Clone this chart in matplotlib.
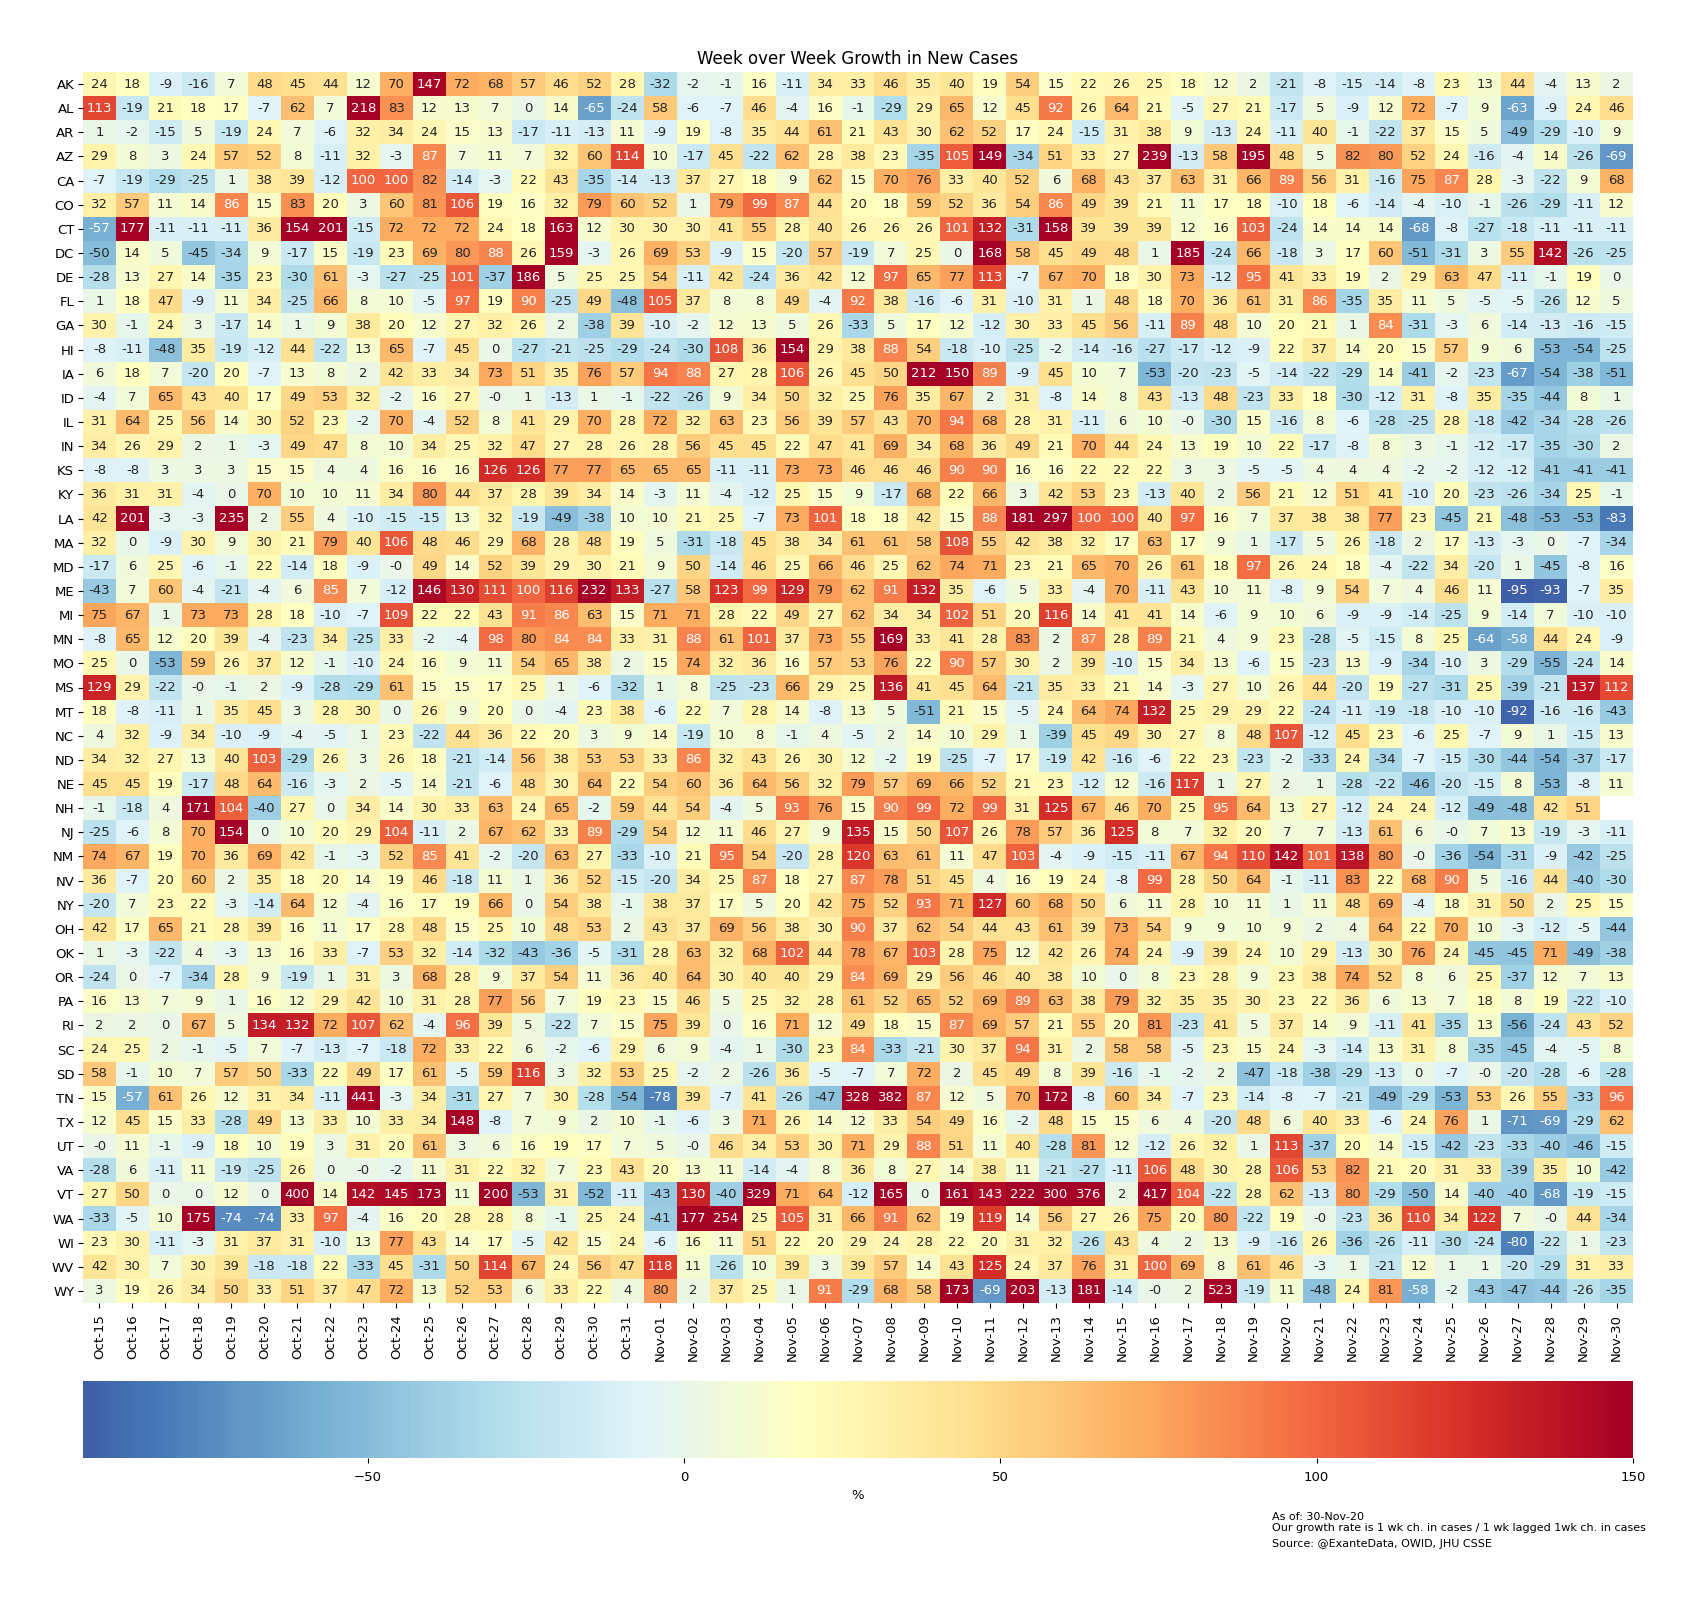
import matplotlib
matplotlib.use('Agg')
import matplotlib.pyplot as plt
from matplotlib.colors import ListedColormap
import numpy as np

nan = np.nan

# one row per state, Oct-15 to Nov-30
AK = [24, 18, -9, -16, 7, 48, 45, 44, 12, 70, 147, 72, 68, 57, 46, 52, 28, -32, -2, -1, 16, -11, 34, 33, 46, 35, 40, 19, 54, 15, 22, 26, 25, 18, 12, 2, -21, -8, -15, -14, -8, 23, 13, 44, -4, 13, 2]
AL = [113, -19, 21, 18, 17, -7, 62, 7, 218, 83, 12, 13, 7, 0, 14, -65, -24, 58, -6, -7, 46, -4, 16, -1, -29, 29, 65, 12, 45, 92, 26, 64, 21, -5, 27, 21, -17, 5, -9, 12, 72, -7, 9, -63, -9, 24, 46]
AR = [1, -2, -15, 5, -19, 24, 7, -6, 32, 34, 24, 15, 13, -17, -11, -13, 11, -9, 19, -8, 35, 44, 61, 21, 43, 30, 62, 52, 17, 24, -15, 31, 38, 9, -13, 24, -11, 40, -1, -22, 37, 15, 5, -49, -29, -10, 9]
AZ = [29, 8, 3, 24, 57, 52, 8, -11, 32, -3, 87, 7, 11, 7, 32, 60, 114, 10, -17, 45, -22, 62, 28, 38, 23, -35, 105, 149, -34, 51, 33, 27, 239, -13, 58, 195, 48, 5, 82, 80, 52, 24, -16, -4, 14, -26, -69]
CA = [-7, -19, -29, -25, 1, 38, 39, -12, 100, 100, 82, -14, -3, 22, 43, -35, -14, -13, 37, 27, 18, 9, 62, 15, 70, 76, 33, 40, 52, 6, 68, 43, 37, 63, 31, 66, 89, 56, 31, -16, 75, 87, 28, -3, -22, 9, 68]
CO = [32, 57, 11, 14, 86, 15, 83, 20, 3, 60, 81, 106, 19, 16, 32, 79, 60, 52, 1, 79, 99, 87, 44, 20, 18, 59, 52, 36, 54, 86, 49, 39, 21, 11, 17, 18, -10, 18, -6, -14, -4, -10, -1, -26, -29, -11, 12]
CT = [-57, 177, -11, -11, -11, 36, 154, 201, -15, 72, 72, 72, 24, 18, 163, 12, 30, 30, 30, 41, 55, 28, 40, 26, 26, 26, 101, 132, -31, 158, 39, 39, 39, 12, 16, 103, -24, 14, 14, 14, -68, -8, -27, -18, -11, -11, -11]
DC = [-50, 14, 5, -45, -34, 9, -17, 15, -19, 23, 69, 80, 88, 26, 159, -3, 26, 69, 53, -9, 15, -20, 57, -19, 7, 25, 0, 168, 58, 45, 49, 48, 1, 185, -24, 66, -18, 3, 17, 60, -51, -31, 3, 55, 142, -26, -25]
DE = [-28, 13, 27, 14, -35, 23, -30, 61, -3, -27, -25, 101, -37, 186, 5, 25, 25, 54, -11, 42, -24, 36, 42, 12, 97, 65, 77, 113, -7, 67, 70, 18, 30, 73, -12, 95, 41, 33, 19, 2, 29, 63, 47, -11, -1, 19, 0]
FL = [1, 18, 47, -9, 11, 34, -25, 66, 8, 10, -5, 97, 19, 90, -25, 49, -48, 105, 37, 8, 8, 49, -4, 92, 38, -16, -6, 31, -10, 31, 1, 48, 18, 70, 36, 61, 31, 86, -35, 35, 11, 5, -5, -5, -26, 12, 5]
GA = [30, -1, 24, 3, -17, 14, 1, 9, 38, 20, 12, 27, 32, 26, 2, -38, 39, -10, -2, 12, 13, 5, 26, -33, 5, 17, 12, -12, 30, 33, 45, 56, -11, 89, 48, 10, 20, 21, 1, 84, -31, -3, 6, -14, -13, -16, -15]
HI = [-8, -11, -48, 35, -19, -12, 44, -22, 13, 65, -7, 45, 0, -27, -21, -25, -29, -24, -30, 108, 36, 154, 29, 38, 88, 54, -18, -10, -25, -2, -14, -16, -27, -17, -12, -9, 22, 37, 14, 20, 15, 57, 9, 6, -53, -54, -25]
IA = [6, 18, 7, -20, 20, -7, 13, 8, 2, 42, 33, 34, 73, 51, 35, 76, 57, 94, 88, 27, 28, 106, 26, 45, 50, 212, 150, 89, -9, 45, 10, 7, -53, -20, -23, -5, -14, -22, -29, 14, -41, -2, -23, -67, -54, -38, -51]
ID = [-4, 7, 65, 43, 40, 17, 49, 53, 32, -2, 16, 27, -0.0, 1, -13, 1, -1, -22, -26, 9, 34, 50, 32, 25, 76, 35, 67, 2, 31, -8, 14, 8, 43, -13, 48, -23, 33, 18, -30, -12, 31, -8, 35, -35, -44, 8, 1]
IL = [31, 64, 25, 56, 14, 30, 52, 23, -2, 70, -4, 52, 8, 41, 29, 70, 28, 72, 32, 63, 23, 56, 39, 57, 43, 70, 94, 68, 28, 31, -11, 6, 10, -0.0, -30, 15, -16, 8, -6, -28, -25, 28, -18, -42, -34, -28, -26]
IN = [34, 26, 29, 2, 1, -3, 49, 47, 8, 10, 34, 25, 32, 47, 27, 28, 26, 28, 56, 45, 45, 22, 47, 41, 69, 34, 68, 36, 49, 21, 70, 44, 24, 13, 19, 10, 22, -17, -8, 8, 3, -1, -12, -17, -35, -30, 2]
KS = [-8, -8, 3, 3, 3, 15, 15, 4, 4, 16, 16, 16, 126, 126, 77, 77, 65, 65, 65, -11, -11, 73, 73, 46, 46, 46, 90, 90, 16, 16, 22, 22, 22, 3, 3, -5, -5, 4, 4, 4, -2, -2, -12, -12, -41, -41, -41]
KY = [36, 31, 31, -4, 0, 70, 10, 10, 11, 34, 80, 44, 37, 28, 39, 34, 14, -3, 11, -4, -12, 25, 15, 9, -17, 68, 22, 66, 3, 42, 53, 23, -13, 40, 2, 56, 21, 12, 51, 41, -10, 20, -23, -26, -34, 25, -1]
LA = [42, 201, -3, -3, 235, 2, 55, 4, -10, -15, -15, 13, 32, -19, -49, -38, 10, 10, 21, 25, -7, 73, 101, 18, 18, 42, 15, 88, 181, 297, 100, 100, 40, 97, 16, 7, 37, 38, 38, 77, 23, -45, 21, -48, -53, -53, -83]
MA = [32, 0, -9, 30, 9, 30, 21, 79, 40, 106, 48, 46, 29, 68, 28, 48, 19, 5, -31, -18, 45, 38, 34, 61, 61, 58, 108, 55, 42, 38, 32, 17, 63, 17, 9, 1, -17, 5, 26, -18, 2, 17, -13, -3, 0, -7, -34]
MD = [-17, 6, 25, -6, -1, 22, -14, 18, -9, -0.0, 49, 14, 52, 39, 29, 30, 21, 9, 50, -14, 46, 25, 66, 46, 25, 62, 74, 71, 23, 21, 65, 70, 26, 61, 18, 97, 26, 24, 18, -4, -22, 34, -20, 1, -45, -8, 16]
ME = [-43, 7, 60, -4, -21, -4, 6, 85, 7, -12, 146, 130, 111, 100, 116, 232, 133, -27, 58, 123, 99, 129, 79, 62, 91, 132, 35, -6, 5, 33, -4, 70, -11, 43, 10, 11, -8, 9, 54, 7, 4, 46, 11, -95, -93, -7, 35]
MI = [75, 67, 1, 73, 73, 28, 18, -10, -7, 109, 22, 22, 43, 91, 86, 63, 15, 71, 71, 28, 22, 49, 27, 62, 34, 34, 102, 51, 20, 116, 14, 41, 41, 14, -6, 9, 10, 6, -9, -9, -14, -25, 9, -14, 7, -10, -10]
MN = [-8, 65, 12, 20, 39, -4, -23, 34, -25, 33, -2, -4, 98, 80, 84, 84, 33, 31, 88, 61, 101, 37, 73, 55, 169, 33, 41, 28, 83, 2, 87, 28, 89, 21, 4, 9, 23, -28, -5, -15, 8, 25, -64, -58, 44, 24, -9]
MO = [25, 0, -53, 59, 26, 37, 12, -1, -10, 24, 16, 9, 11, 54, 65, 38, 2, 15, 74, 32, 36, 16, 57, 53, 76, 22, 90, 57, 30, 2, 39, -10, 15, 34, 13, -6, 15, -23, 13, -9, -34, -10, 3, -29, -55, -24, 14]
MS = [129, 29, -22, -0.0, -1, 2, -9, -28, -29, 61, 15, 15, 17, 25, 1, -6, -32, 1, 8, -25, -23, 66, 29, 25, 136, 41, 45, 64, -21, 35, 33, 21, 14, -3, 27, 10, 26, 44, -20, 19, -27, -31, 25, -39, -21, 137, 112]
MT = [18, -8, -11, 1, 35, 45, 3, 28, 30, 0, 26, 9, 20, 0, -4, 23, 38, -6, 22, 7, 28, 14, -8, 13, 5, -51, 21, 15, -5, 24, 64, 74, 132, 25, 29, 29, 22, -24, -11, -19, -18, -10, -10, -92, -16, -16, -43]
NC = [4, 32, -9, 34, -10, -9, -4, -5, 1, 23, -22, 44, 36, 22, 20, 3, 9, 14, -19, 10, 8, -1, 4, -5, 2, 14, 10, 29, 1, -39, 45, 49, 30, 27, 8, 48, 107, -12, 45, 23, -6, 25, -7, 9, 1, -15, 13]
ND = [34, 32, 27, 13, 40, 103, -29, 26, 3, 26, 18, -21, -14, 56, 38, 53, 53, 33, 86, 32, 43, 26, 30, 12, -2, 19, -25, -7, 17, -19, 42, -16, -6, 22, 23, -23, -2, -33, 24, -34, -7, -15, -30, -44, -54, -37, -17]
NE = [45, 45, 19, -17, 48, 64, -16, -3, 2, -5, 14, -21, -6, 48, 30, 64, 22, 54, 60, 36, 64, 56, 32, 79, 57, 69, 66, 52, 21, 23, -12, 12, -16, 117, 1, 27, 2, 1, -28, -22, -46, -20, -15, 8, -53, -8, 11]
NH = [-1, -18, 4, 171, 104, -40, 27, 0, 34, 14, 30, 33, 63, 24, 65, -2, 59, 44, 54, -4, 5, 93, 76, 15, 90, 99, 72, 99, 31, 125, 67, 46, 70, 25, 95, 64, 13, 27, -12, 24, 24, -12, -49, -48, 42, 51, nan]
NJ = [-25, -6, 8, 70, 154, 0, 10, 20, 29, 104, -11, 2, 67, 62, 33, 89, -29, 54, 12, 11, 46, 27, 9, 135, 15, 50, 107, 26, 78, 57, 36, 125, 8, 7, 32, 20, 7, 7, -13, 61, 6, -0.0, 7, 13, -19, -3, -11]
NM = [74, 67, 19, 70, 36, 69, 42, -1, -3, 52, 85, 41, -2, -20, 63, 27, -33, -10, 21, 95, 54, -20, 28, 120, 63, 61, 11, 47, 103, -4, -9, -15, -11, 67, 94, 110, 142, 101, 138, 80, -0.0, -36, -54, -31, -9, -42, -25]
NV = [36, -7, 20, 60, 2, 35, 18, 20, 14, 19, 46, -18, 11, 1, 36, 52, -15, -20, 34, 25, 87, 18, 27, 87, 78, 51, 45, 4, 16, 19, 24, -8, 99, 28, 50, 64, -1, -11, 83, 22, 68, 90, 5, -16, 44, -40, -30]
NY = [-20, 7, 23, 22, -3, -14, 64, 12, -4, 16, 17, 19, 66, 0, 54, 38, -1, 38, 37, 17, 5, 20, 42, 75, 52, 93, 71, 127, 60, 68, 50, 6, 11, 28, 10, 11, 1, 11, 48, 69, -4, 18, 31, 50, 2, 25, 15]
OH = [42, 17, 65, 21, 28, 39, 16, 11, 17, 28, 48, 15, 25, 10, 48, 53, 2, 43, 37, 69, 56, 38, 30, 90, 37, 62, 54, 44, 43, 61, 39, 73, 54, 9, 9, 10, 9, 2, 4, 64, 22, 70, 10, -3, -12, -5, -44]
OK = [1, -3, -22, 4, -3, 13, 16, 33, -7, 53, 32, -14, -32, -43, -36, -5, -31, 28, 63, 32, 68, 102, 44, 78, 67, 103, 28, 75, 12, 42, 26, 74, 24, -9, 39, 24, 10, 29, -13, 30, 76, 24, -45, -45, 71, -49, -38]
OR = [-24, 0, -7, -34, 28, 9, -19, 1, 31, 3, 68, 28, 9, 37, 54, 11, 36, 40, 64, 30, 40, 40, 29, 84, 69, 29, 56, 46, 40, 38, 10, 0, 8, 23, 28, 9, 23, 38, 74, 52, 8, 6, 25, -37, 12, 7, 13]
PA = [16, 13, 7, 9, 1, 16, 12, 29, 42, 10, 31, 28, 77, 56, 7, 19, 23, 15, 46, 5, 25, 32, 28, 61, 52, 65, 52, 69, 89, 63, 38, 79, 32, 35, 35, 30, 23, 22, 36, 6, 13, 7, 18, 8, 19, -22, -10]
RI = [2, 2, 0, 67, 5, 134, 132, 72, 107, 62, -4, 96, 39, 5, -22, 7, 15, 75, 39, 0, 16, 71, 12, 49, 18, 15, 87, 69, 57, 21, 55, 20, 81, -23, 41, 5, 37, 14, 9, -11, 41, -35, 13, -56, -24, 43, 52]
SC = [24, 25, 2, -1, -5, 7, -7, -13, -7, -18, 72, 33, 22, 6, -2, -6, 29, 6, 9, -4, 1, -30, 23, 84, -33, -21, 30, 37, 94, 31, 2, 58, 58, -5, 23, 15, 24, -3, -14, 13, 31, 8, -35, -45, -4, -5, 8]
SD = [58, -1, 10, 7, 57, 50, -33, 22, 49, 17, 61, -5, 59, 116, 3, 32, 53, 25, -2, 2, -26, 36, -5, -7, 7, 72, 2, 45, 49, 8, 39, -16, -1, -2, 2, -47, -18, -38, -29, -13, 0, -7, -0.0, -20, -28, -6, -28]
TN = [15, -57, 61, 26, 12, 31, 34, -11, 441, -3, 34, -31, 27, 7, 30, -28, -54, -78, 39, -7, 41, -26, -47, 328, 382, 87, 12, 5, 70, 172, -8, 60, 34, -7, 23, -14, -8, -7, -21, -49, -29, -53, 53, 26, 55, -33, 96]
TX = [12, 45, 15, 33, -28, 49, 13, 33, 10, 33, 34, 148, -8, 7, 9, 2, 10, -1, -6, 3, 71, 26, 14, 12, 33, 54, 49, 16, -2, 48, 15, 15, 6, 4, -20, 48, 6, 40, 33, -6, 24, 76, 1, -71, -69, -29, 62]
UT = [-0.0, 11, -1, -9, 18, 10, 19, 3, 31, 20, 61, 3, 6, 16, 19, 17, 7, 5, -0.0, 46, 34, 53, 30, 71, 29, 88, 51, 11, 40, -28, 81, 12, -12, 26, 32, 1, 113, -37, 20, 14, -15, -42, -23, -33, -40, -46, -15]
VA = [-28, 6, -11, 11, -19, -25, 26, 0, -0.0, -2, 11, 31, 22, 32, 7, 23, 43, 20, 13, 11, -14, -4, 8, 36, 8, 27, 14, 38, 11, -21, -27, -11, 106, 48, 30, 28, 106, 53, 82, 21, 20, 31, 33, -39, 35, 10, -42]
VT = [27, 50, 0, 0, 12, 0, 400, 14, 142, 145, 173, 11, 200, -53, 31, -52, -11, -43, 130, -40, 329, 71, 64, -12, 165, 0, 161, 143, 222, 300, 376, 2, 417, 104, -22, 28, 62, -13, 80, -29, -50, 14, -40, -40, -68, -19, -15]
WA = [-33, -5, 10, 175, -74, -74, 33, 97, -4, 16, 20, 28, 28, 8, -1, 25, 24, -41, 177, 254, 25, 105, 31, 66, 91, 62, 19, 119, 14, 56, 27, 26, 75, 20, 80, -22, 19, -0.0, -23, 36, 110, 34, 122, 7, -0.0, 44, -34]
WI = [23, 30, -11, -3, 31, 37, 31, -10, 13, 77, 43, 14, 17, -5, 42, 15, 24, -6, 16, 11, 51, 22, 20, 29, 24, 28, 22, 20, 31, 32, -26, 43, 4, 2, 13, -9, -16, 26, -36, -26, -11, -30, -24, -80, -22, 1, -23]
WV = [42, 30, 7, 30, 39, -18, -18, 22, -33, 45, -31, 50, 114, 67, 24, 56, 47, 118, 11, -26, 10, 39, 3, 39, 57, 14, 43, 125, 24, 37, 76, 31, 100, 69, 8, 61, 46, -3, 1, -21, 12, 1, 1, -20, -29, 31, 33]
WY = [3, 19, 26, 34, 50, 33, 51, 37, 47, 72, 13, 52, 53, 6, 33, 22, 4, 80, 2, 37, 25, 1, 91, -29, 68, 58, 173, -69, 203, -13, 181, -14, -0.0, 2, 523, -19, 11, -48, 24, 81, -58, -2, -43, -47, -44, -26, -35]

states = ['AK', 'AL', 'AR', 'AZ', 'CA', 'CO', 'CT', 'DC', 'DE', 'FL', 'GA', 'HI', 'IA', 'ID', 'IL', 'IN', 'KS',
          'KY', 'LA', 'MA', 'MD', 'ME', 'MI', 'MN', 'MO', 'MS', 'MT', 'NC', 'ND', 'NE', 'NH', 'NJ', 'NM', 'NV',
          'NY', 'OH', 'OK', 'OR', 'PA', 'RI', 'SC', 'SD', 'TN', 'TX', 'UT', 'VA', 'VT', 'WA', 'WI', 'WV', 'WY']
rows = [AK, AL, AR, AZ, CA, CO, CT, DC, DE, FL, GA, HI, IA, ID, IL, IN, KS,
        KY, LA, MA, MD, ME, MI, MN, MO, MS, MT, NC, ND, NE, NH, NJ, NM, NV,
        NY, OH, OK, OR, PA, RI, SC, SD, TN, TX, UT, VA, VT, WA, WI, WV, WY]
dates = ['Oct-%02d' % d for d in range(15, 32)] + ['Nov-%02d' % d for d in range(1, 31)]

W, H = 1696, 1600
FS = 9.5
VMIN, VMAX, CENTER = -95, 150, 19


def ax_rect(x0, y0, x1, y1):
    # pixel box (top-left origin) to figure fractions
    return [x0 / W, 1 - y1 / H, (x1 - x0) / W, (y1 - y0) / H]


def luminance(rgb):
    # same rule seaborn uses to pick the annotation colour
    c = np.array(rgb[:3])
    c = np.where(c <= .03928, c / 12.92, ((c + .055) / 1.055) ** 2.4)
    return c.dot([.2126, .7152, .0722])


data = np.array(rows, dtype=float)

# colormap recentred on CENTER, so the blue end gets cut off
vrange = max(VMAX - CENTER, CENTER - VMIN)
lo = (VMIN - (CENTER - vrange)) / (2 * vrange)
hi = (VMAX - (CENTER - vrange)) / (2 * vrange)
cmap = ListedColormap(plt.get_cmap('RdYlBu_r')(np.linspace(lo, hi, 256)))

fig = plt.figure(figsize=(W / 100, H / 100), dpi=100)
ax = fig.add_axes(ax_rect(83, 72, 1633, 1303))
cax = fig.add_axes(ax_rect(83, 1381, 1633, 1458))

mesh = ax.pcolormesh(np.ma.masked_invalid(data), cmap=cmap, vmin=VMIN, vmax=VMAX)
ax.set_xlim(0, data.shape[1])
ax.set_ylim(data.shape[0], 0)

for i in range(data.shape[0]):
    for j in range(data.shape[1]):
        v = data[i, j]
        if np.isnan(v):
            continue
        col = '.15' if luminance(mesh.cmap(mesh.norm(v))) > .408 else 'w'
        ax.text(j + .5, i + .5, '%.0f' % v, ha='center', va='center', color=col, fontsize=FS)

ax.set_xticks(np.arange(data.shape[1]) + .5)
ax.set_xticklabels(dates, rotation=90, fontsize=FS)
ax.set_yticks(np.arange(data.shape[0]) + .5)
ax.set_yticklabels(states, rotation=0, fontsize=FS)
ax.tick_params(length=3.3)
ax.tick_params(axis='x', pad=4.5)
ax.tick_params(axis='y', pad=3)
for s in ax.spines.values():
    s.set_visible(False)
ax.set_title('Week over Week Growth in New Cases', fontsize=12, pad=5.5)

cbar = fig.colorbar(mesh, cax=cax, orientation='horizontal')
cbar.outline.set_visible(False)
cbar.set_ticks([-50, 0, 50, 100, 150])
cbar.ax.tick_params(labelsize=FS, length=3.3, pad=6)
cbar.set_label('%', fontsize=FS)

fig.text(1272 / W, 1 - 1517 / H, 'As of: 30-Nov-20', fontsize=8, va='center')
fig.text(1272 / W, 1 - 1528 / H, 'Our growth rate is 1 wk ch. in cases / 1 wk lagged 1wk ch. in cases', fontsize=8, va='center')
fig.text(1272 / W, 1 - 1544 / H, 'Source: @ExanteData, OWID, JHU CSSE', fontsize=8, va='center')

plt.savefig('out.png', dpi=100)
